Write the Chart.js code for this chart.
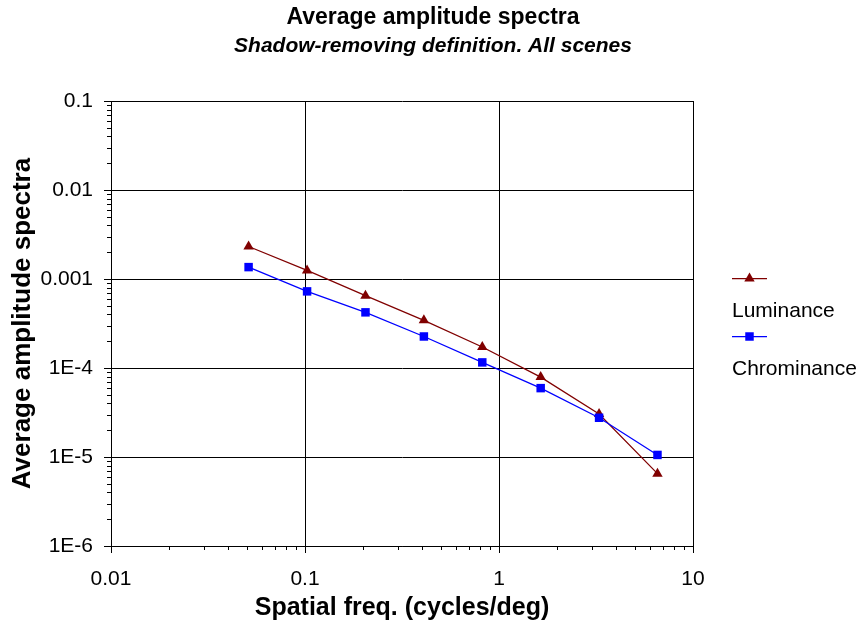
<!DOCTYPE html>
<html>
<head>
<meta charset="utf-8">
<script src="https://cdn.jsdelivr.net/npm/chart.js@4/dist/chart.umd.min.js"></script>
<style>
  html, body { margin: 0; padding: 0; background: #ffffff; }
  #wrap { width: 866px; height: 626px; }
</style>
</head>
<body>
<div id="wrap"><canvas id="c" width="866" height="626"></canvas></div>
<script>
// ---- Data ----
const spatialFreq = [0.0512, 0.1025, 0.205, 0.41, 0.82, 1.64, 3.28, 6.56];
const luminance   = [2.32e-3, 1.25e-3, 6.5e-4, 3.43e-4, 1.72e-4, 7.9e-5, 3.04e-5, 6.5e-6];
const chrominance = [1.36e-3, 7.26e-4, 4.22e-4, 2.26e-4, 1.156e-4, 5.94e-5, 2.76e-5, 1.055e-5];
const seriesNames = ['Luminance', 'Chrominance'];
const xTickValues = [0.01, 0.1, 1, 10];
const xTickLabels = ['0.01', '0.1', '1', '10'];
const yTickValues = [1e-6, 1e-5, 1e-4, 1e-3, 1e-2, 1e-1];
const yTickLabels = ['1E-6', '1E-5', '1E-4', '0.001', '0.01', '0.1'];
const titleText = 'Average amplitude spectra';
const subtitleText = 'Shadow-removing definition. All scenes';
const xTitle = 'Spatial freq. (cycles/deg)';
const yTitle = 'Average amplitude spectra';

const FONT = "'Liberation Sans', Arial, Helvetica, sans-serif";

const toPoints = (ys) => spatialFreq.map((x, i) => ({ x: x, y: ys[i] }));

// minor ticks (outside the plot) on log axes
const minorTicks = {
  id: 'minorTicks',
  afterDraw(chart) {
    const ctx = chart.ctx;
    ctx.save();
    ctx.strokeStyle = '#000';
    ctx.lineWidth = 1;
    const xs = chart.scales.x, ys = chart.scales.y;
    const len = 4;
    for (let d = 0; d < xTickValues.length - 1; d++) {
      for (let m = 2; m <= 9; m++) {
        const px = Math.round(xs.getPixelForValue(m * xTickValues[d])) + 0.5;
        ctx.beginPath();
        ctx.moveTo(px, xs.top);
        ctx.lineTo(px, xs.top + len);
        ctx.stroke();
      }
    }
    for (let d = 0; d < yTickValues.length - 1; d++) {
      for (let m = 2; m <= 9; m++) {
        const py = Math.round(ys.getPixelForValue(m * yTickValues[d])) + 0.5;
        ctx.beginPath();
        ctx.moveTo(ys.right - len, py);
        ctx.lineTo(ys.right, py);
        ctx.stroke();
      }
    }
    ctx.restore();
  }
};

function drawMarker(ctx, style, x, y, r, color) {
  ctx.fillStyle = color;
  ctx.beginPath();
  if (style === 'triangle') {
    ctx.moveTo(x, y - r);
    ctx.lineTo(x + r * Math.sin(2 * Math.PI / 3), y - r * Math.cos(2 * Math.PI / 3));
    ctx.lineTo(x + r * Math.sin(4 * Math.PI / 3), y - r * Math.cos(4 * Math.PI / 3));
    ctx.closePath();
  } else {
    const s = r * Math.SQRT1_2;
    ctx.rect(x - s, y - s, 2 * s, 2 * s);
  }
  ctx.fill();
}

// legend: symbol on one row, name on the row below
const stackedLegend = {
  id: 'stackedLegend',
  afterDraw(chart) {
    const ctx = chart.ctx;
    const area = chart.chartArea;
    const x0 = area.right + 39;
    const rowGap = 58;
    const n = chart.data.datasets.length;
    const cy = (area.top + area.bottom) / 2;
    let y = cy - (n * rowGap) / 2 + 13;
    ctx.save();
    chart.data.datasets.forEach((ds) => {
      ctx.strokeStyle = ds.borderColor;
      ctx.lineWidth = 1.25;
      ctx.beginPath();
      ctx.moveTo(x0, y);
      ctx.lineTo(x0 + 35, y);
      ctx.stroke();
      drawMarker(ctx, ds.pointStyle, x0 + 17.5, y, 6, ds.backgroundColor);
      ctx.fillStyle = '#000';
      ctx.font = '21px ' + FONT;
      ctx.textAlign = 'left';
      ctx.textBaseline = 'middle';
      ctx.fillText(ds.label, x0, y + 33);
      y += rowGap;
    });
    ctx.restore();
  }
};

new Chart(document.getElementById('c'), {
  type: 'line',
  data: {
    datasets: [
      {
        label: seriesNames[0],
        data: toPoints(luminance),
        borderColor: '#800000',
        backgroundColor: '#800000',
        borderWidth: 1.25,
        pointStyle: 'triangle',
        pointRadius: 6,
        pointBorderWidth: 0,
        tension: 0,
        order: 2
      },
      {
        label: seriesNames[1],
        data: toPoints(chrominance),
        borderColor: '#0000FF',
        backgroundColor: '#0000FF',
        borderWidth: 1.25,
        pointStyle: 'rect',
        pointRadius: 6,
        pointBorderWidth: 0,
        tension: 0,
        order: 1
      }
    ]
  },
  options: {
    responsive: false,
    animation: false,
    devicePixelRatio: 1,
    layout: { padding: { left: 0, right: 0, top: 0, bottom: 0 } },
    plugins: {
      legend: { display: false },
      tooltip: { enabled: false },
      title: {
        display: true,
        text: titleText,
        color: '#000',
        font: { family: FONT, size: 23, weight: 'bold', lineHeight: 1.0 },
        padding: { top: 6.5, bottom: 0 }
      },
      subtitle: {
        display: true,
        text: subtitleText,
        color: '#000',
        font: { family: FONT, size: 21, weight: 'bold', style: 'italic', lineHeight: 1.0 },
        padding: { top: 6, bottom: 44.5 }
      }
    },
    scales: {
      x: {
        type: 'logarithmic',
        min: 0.01,
        max: 10,
        afterBuildTicks(scale) { scale.ticks = xTickValues.map(v => ({ value: v })); },
        afterFit(scale) { scale.height = 80; },
        ticks: {
          color: '#000',
          font: { family: FONT, size: 21 },
          padding: 14,
          maxRotation: 0,
          autoSkip: false,
          callback: (v, i) => xTickLabels[i]
        },
        grid: { color: '#000', lineWidth: 1, tickLength: 7, drawTicks: true },
        border: { display: true, color: '#000', width: 1 },
        title: {
          display: true,
          text: xTitle,
          color: '#000',
          font: { family: FONT, size: 25, weight: 'bold' },
          padding: { top: 0, bottom: 3 }
        }
      },
      y: {
        type: 'logarithmic',
        min: 1e-6,
        max: 0.1,
        afterBuildTicks(scale) { scale.ticks = yTickValues.map(v => ({ value: v })); },
        afterFit(scale) { scale.width = 111; },
        ticks: {
          color: '#000',
          font: { family: FONT, size: 21 },
          padding: 11,
          autoSkip: false,
          callback: (v, i) => yTickLabels[i]
        },
        grid: { color: '#000', lineWidth: 1, tickLength: 7, drawTicks: true },
        border: { display: true, color: '#000', width: 1 },
        title: {
          display: true,
          text: yTitle,
          color: '#000',
          font: { family: FONT, size: 26, weight: 'bold' },
          padding: { top: 7, bottom: 0 }
        }
      },
      // empty right-hand band that holds the legend area
      legendBand: {
        type: 'linear',
        position: 'right',
        display: true,
        afterFit(scale) { scale.width = 173; },
        grid: { display: false, drawTicks: false },
        border: { display: false },
        ticks: { display: false }
      }
    }
  },
  plugins: [minorTicks, stackedLegend]
});
</script>
</body>
</html>
